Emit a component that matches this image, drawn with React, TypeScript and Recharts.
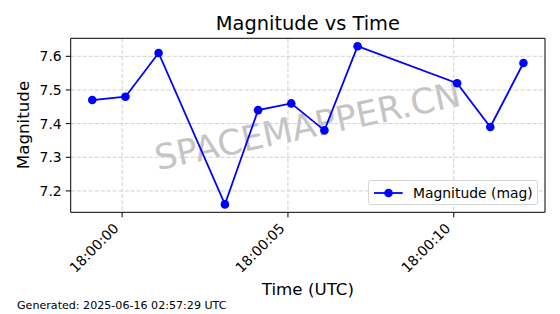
import { LineChart, Line, XAxis, YAxis, CartesianGrid, ReferenceLine } from "recharts";

// seconds after 18:00:00 UTC
const TIME_SEC = [-0.9, 0.1, 1.1, 3.1, 4.1, 5.1, 6.1, 7.1, 10.1, 11.1, 12.1];
const MAGNITUDE = [7.47, 7.48, 7.61, 7.16, 7.44, 7.46, 7.38, 7.63, 7.52, 7.39, 7.58];

const X_TICKS = [0, 5, 10];
const X_TICK_LABELS = ["18:00:00", "18:00:05", "18:00:10"];
const Y_TICKS = [7.2, 7.3, 7.4, 7.5, 7.6];

const DATA = TIME_SEC.map((t, i) => ({ t, mag: MAGNITUDE[i] }));

// matplotlib-style 5% margins
const pad = (lo: number, hi: number) => {
  const m = (hi - lo) * 0.05;
  return [lo - m, hi + m];
};
const [X_MIN, X_MAX] = pad(Math.min(...TIME_SEC), Math.max(...TIME_SEC));
const [Y_MIN, Y_MAX] = pad(Math.min(...MAGNITUDE), Math.max(...MAGNITUDE));

const FONT = "DejaVu Sans, sans-serif";
const BLUE = "#0000ff";

function XTick({ x, y, payload }: any) {
  const idx = X_TICKS.indexOf(payload.value);
  return (
    <g transform={`translate(${x - 2.5},${y + 10})`}>
      <text x={0} y={0} textAnchor="end" transform="rotate(-45)" fontSize={13.9} fontFamily={FONT} fill="#000">
        {X_TICK_LABELS[idx]}
      </text>
    </g>
  );
}

export default function App() {
  return (
    <div style={{ position: "absolute", left: 0, top: 0, width: 560, height: 314, background: "#fff", fontFamily: FONT }}>
      {/* text layer behind the plot */}
      <svg width={560} height={314} style={{ position: "absolute", left: 0, top: 0 }}>
        <text x={307.9} y={29.5} textAnchor="middle" fontSize={19.4} fontFamily={FONT} fill="#000">Magnitude vs Time</text>
        <text x={0} y={0} transform="translate(29,125) rotate(-90)" textAnchor="middle" fontSize={16.7} fontFamily={FONT} fill="#000">Magnitude</text>
        <text x={307.9} y={295} textAnchor="middle" fontSize={16.7} fontFamily={FONT} fill="#000">Time (UTC)</text>
        <text x={17} y={309} fontSize={11.1} fontFamily={FONT} fill="#000">Generated: 2025-06-16 02:57:29 UTC</text>
        <text x={0} y={0} transform="translate(308,128) rotate(-12)" textAnchor="middle" dominantBaseline="middle" fontSize={34.7} fontFamily={FONT} fill="#c4c4c4">SPACEMAPPER.CN</text>
      </svg>

      <div style={{ position: "absolute", left: 0, top: 0 }}>
        <LineChart width={560} height={314} data={DATA} margin={{ top: 38.3, right: 15, bottom: 41.7, left: 10.7 }}>
          <CartesianGrid stroke="#cfcfcf" strokeDasharray="4 2" horizontalValues={Y_TICKS} verticalValues={X_TICKS} />
          <XAxis
            dataKey="t" type="number" domain={[X_MIN, X_MAX]} ticks={X_TICKS} allowDataOverflow
            height={60} tickSize={5} tickMargin={2} tick={<XTick />}
            axisLine={{ stroke: "#000", strokeWidth: 1 }} tickLine={{ stroke: "#000" }}
          />
          <YAxis
            type="number" domain={[Y_MIN, Y_MAX]} ticks={Y_TICKS} allowDataOverflow
            width={60} tickSize={5} tickMargin={4} tickFormatter={(v: number) => v.toFixed(1)}
            tick={{ fill: "#000", fontSize: 13.9, fontFamily: FONT }}
            axisLine={{ stroke: "#000", strokeWidth: 1 }} tickLine={{ stroke: "#000" }}
          />
          <ReferenceLine x={X_MAX} stroke="#000" strokeWidth={1} />
          <ReferenceLine y={Y_MAX} stroke="#000" strokeWidth={1} />
          <Line
            dataKey="mag" stroke={BLUE} strokeWidth={1.8} isAnimationActive={false}
            dot={{ r: 4.3, fill: BLUE, stroke: BLUE, strokeWidth: 0 }} activeDot={false}
          />
        </LineChart>
      </div>

      {/* legend */}
      <div style={{
        position: "absolute", left: 368, top: 180, width: 170, height: 25, boxSizing: "border-box",
        border: "1px solid #d6d6d6", borderRadius: 3, background: "rgba(255,255,255,0.8)",
        display: "flex", alignItems: "center",
      }}>
        <svg width={44} height={23} style={{ display: "block" }}>
          <line x1={5} y1={12} x2={33.7} y2={12} stroke={BLUE} strokeWidth={1.8} />
          <circle cx={19.5} cy={12} r={4.3} fill={BLUE} />
        </svg>
        <span style={{ fontSize: 13.9, color: "#000", whiteSpace: "nowrap" }}>Magnitude (mag)</span>
      </div>
    </div>
  );
}
